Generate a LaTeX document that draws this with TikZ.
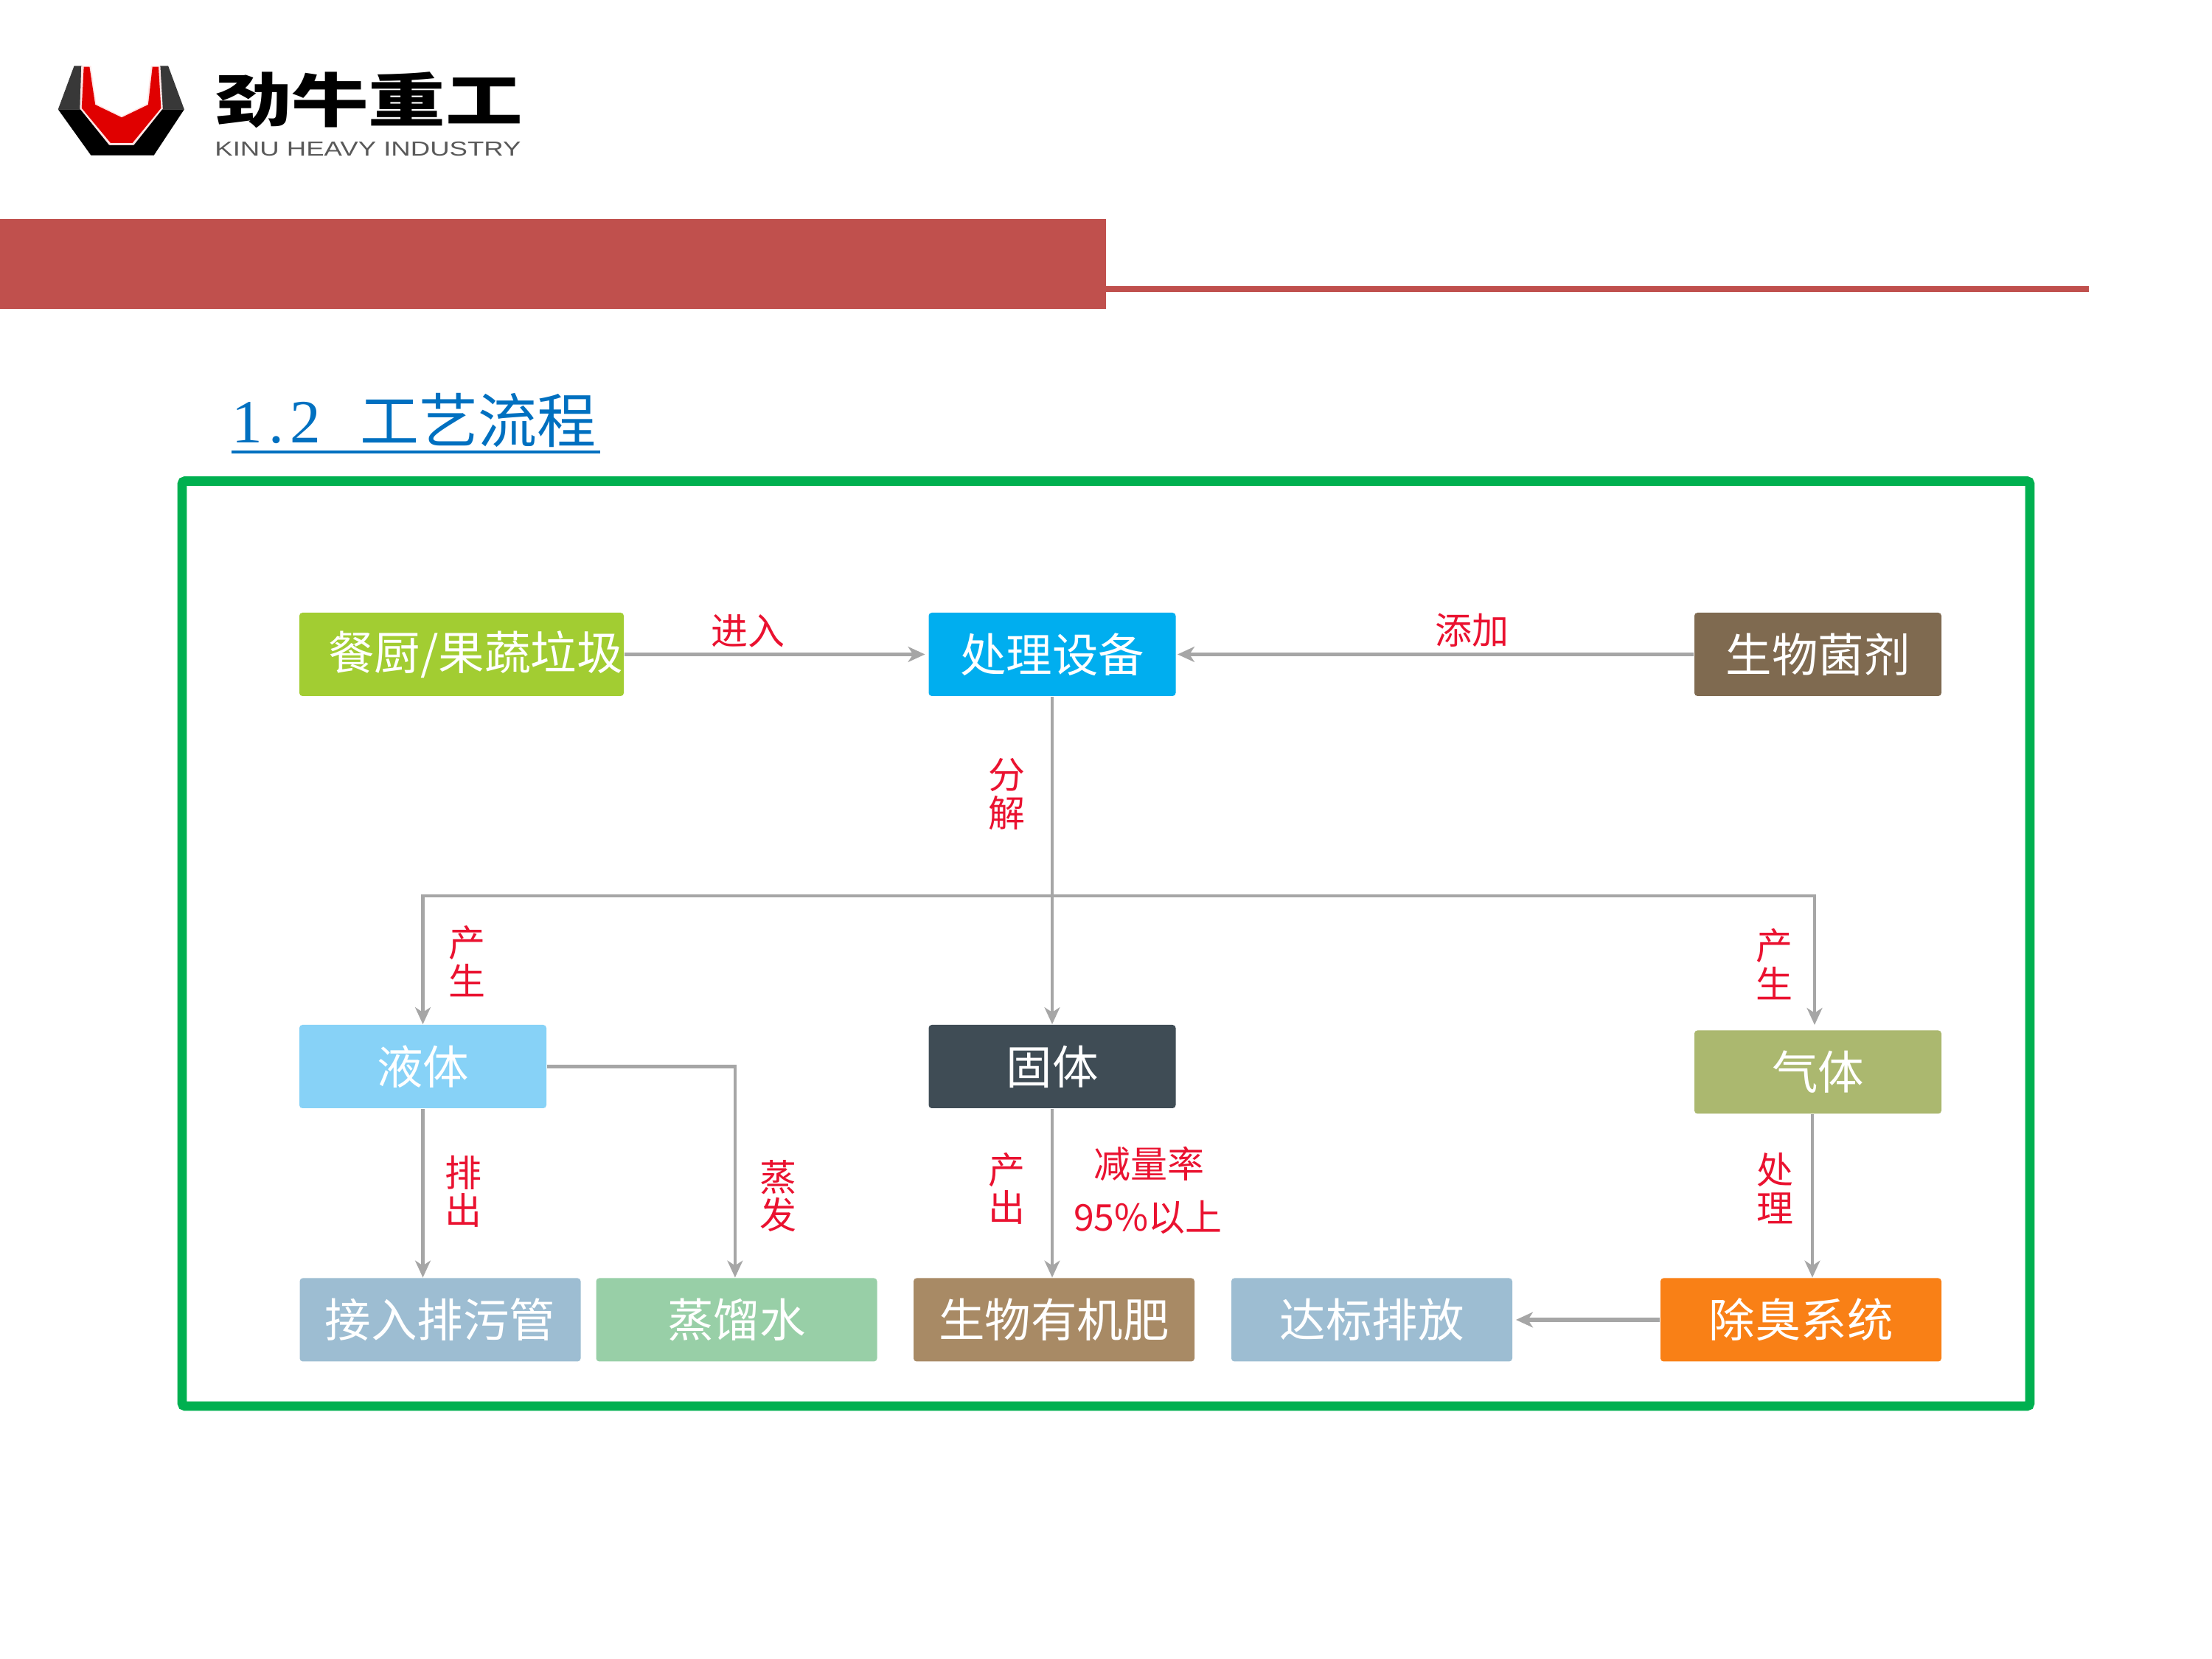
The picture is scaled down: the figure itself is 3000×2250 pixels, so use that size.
\documentclass[tikz,border=0pt]{standalone}
\usepackage{fontspec}
\usetikzlibrary{arrows.meta,calc}
\setmainfont{Liberation Sans}
\newfontfamily\cjk{Noto Sans CJK SC}
\newfontfamily\serifdig{Liberation Serif}
\newcommand\pxu{0.24pt}
\definecolor{framegreen}{HTML}{00B050}
\definecolor{bannerred}{HTML}{C0504D}
\definecolor{linegrey}{HTML}{A6A6A6}
\definecolor{labelred}{HTML}{EA1230}
\definecolor{titleblue}{HTML}{0070C0}
\definecolor{cA}{HTML}{A2CD32}
\definecolor{cB}{HTML}{00AEEF}
\definecolor{cC}{HTML}{7F6A50}
\definecolor{cD}{HTML}{87D2F7}
\definecolor{cE}{HTML}{3F4C55}
\definecolor{cF}{HTML}{ABB86F}
\definecolor{cG}{HTML}{9DBDD2}
\definecolor{cH}{HTML}{98CFA7}
\definecolor{cI}{HTML}{A88A65}
\definecolor{cJ}{HTML}{F98016}
\tikzset{
  flowbox/.style={rectangle,rounded corners=1pt,inner sep=0pt,text=white,
    font=\cjk\fontsize{15pt}{16pt}\selectfont,minimum height=113*\pxu},
  wide/.style={minimum width=335*\pxu},
  wider/.style={minimum width=381*\pxu},
  lab/.style={text=labelred,inner sep=0pt,align=center,
    font=\cjk\fontsize{12pt}{12.4pt}\selectfont},
  flow/.style={draw=linegrey,line width=1.05pt,-{Stealth[length=5.5pt,width=5pt,inset=1.6pt]}},
  flowh/.style={flow,line width=1.4pt}
}
\begin{document}
\begin{tikzpicture}[x=0.24pt,y=-0.24pt]
\fill[white] (0,0) rectangle (3000,2250);
\useasboundingbox (0,0) rectangle (3000,2250);

% header band
\fill[bannerred] (0,297) rectangle (1500,419);
\fill[bannerred] (1500,388) rectangle (2833,396);

% logo mark
\begin{scope}[shift={(9.6pt,-12pt)},x=0.11634pt,y=-0.08pt]
  \fill[black!78] (125,118) -- (148,118) -- (143,295) -- (80,295) -- cycle;
  \fill[black!78] (365,118) -- (388,118) -- (433,295) -- (370,295) -- cycle;
  \fill[black] (80,295) -- (143,295) -- (225,440) -- (290,440) -- (370,295) -- (433,295) -- (348,482) -- (172,482) -- cycle;
  \fill[red!10!white] (145,118) -- (172,118) -- (187,272) -- (258,323) -- (328,272) -- (340,118) -- (366,118) -- (373,292) -- (292,440) -- (223,440) -- (141,292) -- cycle;
  \fill[red!88!black] (152,122) -- (168,122) -- (184,276) -- (258,328) -- (332,276) -- (344,122) -- (361,122) -- (368,290) -- (288,432) -- (227,432) -- (146,290) -- cycle;
\end{scope}
\node[inner sep=0pt,xscale=1.32,font=\cjk\bfseries\fontsize{19pt}{20pt}\selectfont] (logoname) at (500,135.5) {劲牛重工};
\node[inner sep=0pt,xscale=1.33,text=black!65,font=\fontsize{6.6pt}{7pt}\selectfont] (logosub) at (499,202) {KINU HEAVY INDUSTRY};

% title
\node[anchor=base west,inner sep=0pt,text=titleblue] (title) at (314,601)
  {\makebox[119.5pt][l]{\serifdig\fontsize{20pt}{21pt}\selectfont 1\hspace{2pt}.\hspace{2pt}2\hspace{12.8pt}\cjk\fontsize{19.2pt}{21pt}\selectfont 工艺流程}};
\draw[titleblue,line width=1pt] ([yshift=-2.8pt]title.base west) -- ([yshift=-2.8pt]title.base east);

% frame
\draw[framegreen,line width=3.1pt,rounded corners=1pt] (247,652.5) rectangle (2753,1907);

% boxes
\node[flowbox,fill=cA,minimum width=440*\pxu,text width=437*\pxu,align=right] (canchu) at (626,887.5) {餐厨/果蔬垃圾};
\node[flowbox,wide,fill=cB] (chuli) at (1427,887.5) {处理设备};
\node[flowbox,wide,fill=cC] (junji) at (2465.5,887.5) {生物菌剂};
\node[flowbox,wide,fill=cD] (yeti) at (573.5,1446.5) {液体};
\node[flowbox,wide,fill=cE] (guti) at (1427,1446.5) {固体};
\node[flowbox,wide,fill=cF] (qiti) at (2465.5,1454) {气体};
\node[flowbox,wider,fill=cG] (jieru) at (597,1790) {接入排污管};
\node[flowbox,wider,fill=cH] (zheng) at (999,1790) {蒸馏水};
\node[flowbox,wider,fill=cI] (fei) at (1429.5,1790) {生物有机肥};
\node[flowbox,wider,fill=cG] (dabiao) at (1860.5,1790) {达标排放};
\node[flowbox,wider,fill=cJ] (chuchou) at (2442.5,1790) {除臭系统};

% connectors
\coordinate (jct) at (1427,1215);
\coordinate (qiend) at (2461,1390);
\draw[flowh] (canchu.east) -- ([xshift=-1pt]chuli.west);
\draw[flowh] (junji.west) -- ([xshift=0.4pt]chuli.east);
\draw[flow] (chuli.south) -- (guti.north);
\draw[flow] (jct) -| (yeti.north);
\draw[flow] (jct) -| (qiend);
\draw[flow] (yeti.south) -- (yeti.south |- jieru.north);
\draw[flow] (yeti.east) -| ([xshift=-0.5pt]zheng.north);
\draw[flow] (guti.south) -- (guti.south |- fei.north);
\draw[flow] ([xshift=-1.8pt]qiti.south) -- ([xshift=-1.8pt]qiti.south |- chuchou.north);
\draw[flowh] (chuchou.west) -- ([xshift=1pt]dabiao.east);

% labels
\node[lab] (l1) at (1014,856) {进入};
\node[lab] (l2) at (1996,855) {添加};
\node[lab] (l3) at (1365,1077) {分\\解};
\node[lab] (l4) at (633,1304) {产\\生};
\node[lab] (l5) at (2406,1308) {产\\生};
\node[lab] (l6) at (628,1616) {排\\出};
\node[lab] (l7) at (1055,1622) {蒸\\发};
\node[lab] (l8) at (1365,1612) {产\\出};
\node[lab] (l9) at (1558,1578) {减量率};
\node[lab] (l10) at (1557,1651) {95\%以上};
\node[lab] (l11) at (2407,1612) {处\\理};
\end{tikzpicture}
\end{document}
